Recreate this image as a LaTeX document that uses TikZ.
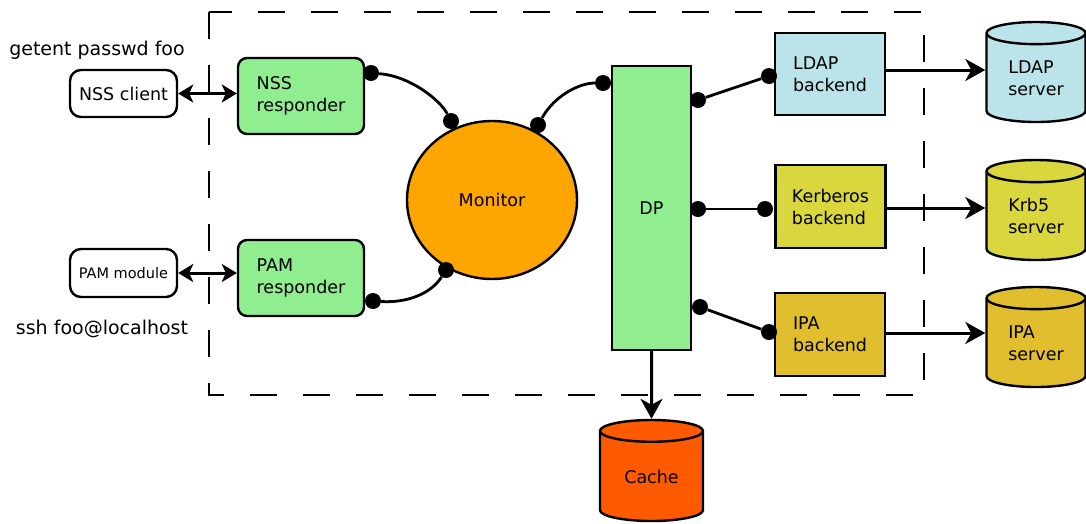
\documentclass[tikz,border=0pt]{standalone}
\usepackage{fontspec}
\setmainfont{DejaVu Sans}
\usetikzlibrary{shapes.geometric,arrows.meta}

\definecolor{respgreen}{RGB}{144,238,144}
\definecolor{monorange}{RGB}{255,165,0}
\definecolor{cacheorange}{RGB}{255,90,0}
\definecolor{ldapblue}{RGB}{186,228,234}
\definecolor{krbyellow}{RGB}{217,214,62}
\definecolor{ipagold}{RGB}{225,190,46}

\tikzset{
  box/.style={draw, line width=2.4pt, align=left, inner sep=0pt, font=\fontsize{17.5}{22}\selectfont},
  resp/.style={box, rounded corners=9pt, fill=respgreen, minimum width=126pt, minimum height=76pt},
  client/.style={box, rounded corners=11pt, fill=white, minimum width=107pt, minimum height=47pt},
  backend/.style={box, minimum width=110pt, minimum height=82pt},
  store/.style={box, cylinder, shape border rotate=90, aspect=0.4, anchor=shape center, minimum width=99pt, minimum height=100pt},
  dot/.style={circle, fill=black, inner sep=0pt, minimum size=16pt},
  link/.style={line width=2.8pt},
  flow/.style={line width=3pt, -{Stealth[length=20pt,width=22pt,inset=6pt]}},
  talk/.style={line width=3pt, {Stealth[length=15pt,width=18pt,inset=4pt]}-{Stealth[length=15pt,width=18pt,inset=4pt]}},
  cmd/.style={font=\fontsize{19}{23}\selectfont}
}

\begin{document}
\begin{tikzpicture}[x=1pt, y=-1pt]
\useasboundingbox (0,0) rectangle (1086,523);

\draw[line width=2.4pt, dash pattern=on 27pt off 26pt] (209,12) rectangle (924,395);

\node[cmd] (getent) at (97,50) {getent passwd foo};
\node[cmd] (ssh) at (102,329) {ssh foo@localhost};

\node[client] (nsscli) at (123.5,93.5) {NSS client};
\node[client, font=\fontsize{14.5}{17}\selectfont, minimum height=48pt] (pammod) at (123.5,273) {PAM module};

\node[resp] (nssresp) at (301,96) {NSS\\responder};
\node[resp] (pamresp) at (301,278) {PAM\\responder};

\node[box, ellipse, fill=monorange, minimum width=170pt, minimum height=158pt] (monitor) at (492,200) {Monitor};

\node[box, fill=respgreen, minimum width=79pt, minimum height=284pt] (dp) at (651.5,208) {DP};

\node[backend, fill=ldapblue] (ldapbe) at (830,74) {LDAP\\backend};
\node[backend, fill=krbyellow, minimum height=83pt] (krbbe) at (830.5,206.5) {Kerberos\\backend};
\node[backend, fill=ipagold, minimum height=83pt] (ipabe) at (830,334.5) {IPA\\backend};

\node[store, fill=ldapblue] (ldapsrv) at (1036,72) {LDAP\\server};
\node[store, fill=krbyellow] (krbsrv) at (1036,210) {Krb5\\server};
\node[store, fill=ipagold] (ipasrv) at (1036,337) {IPA\\server};
\node[store, fill=cacheorange, minimum width=103pt, minimum height=101pt, align=center] (cache) at (651.5,470.5) {Cache};

\node[dot] (nssdot) at (371,73) {};
\node[dot] (monnss) at (451,121) {};
\node[dot] (mondp) at (538,125) {};
\node[dot] (dpmon) at (603,83) {};
\node[dot] (pamdot) at (373,301) {};
\node[dot] (monpam) at (446,270) {};
\node[dot] (dpldap) at (698,100) {};
\node[dot] (ldapdot) at (769,76) {};
\node[dot] (dpkrb) at (698,209) {};
\node[dot] (krbdot) at (765,209) {};
\node[dot] (dpipa) at (700,307) {};
\node[dot] (ipadot) at (769,332) {};

\draw[link] (nssdot) .. controls (410,76) and (440,100) .. (monnss);
\draw[link] (mondp) .. controls (555,95) and (580,83) .. (dpmon);
\draw[link] (monpam) .. controls (430,295) and (405,303) .. (pamdot);
\draw[link] (dpldap) -- (ldapdot);
\draw[link] (dpkrb) -- (krbdot);
\draw[link] (dpipa) -- (ipadot);

\draw[talk] (nsscli.east) -- (nsscli.east -| nssresp.west);
\draw[talk] (pammod.east) -- (pammod.east -| pamresp.west);

\draw[flow] (ldapbe.east |- 0,70) -- (ldapsrv.west |- 0,70);
\draw[flow] (krbbe.east |- 0,208) -- (krbsrv.west |- 0,208);
\draw[flow] (ipabe.east |- 0,333) -- (ipasrv.west |- 0,333);
\draw[flow] (dp.south) -- (cache.north);
\end{tikzpicture}
\end{document}
